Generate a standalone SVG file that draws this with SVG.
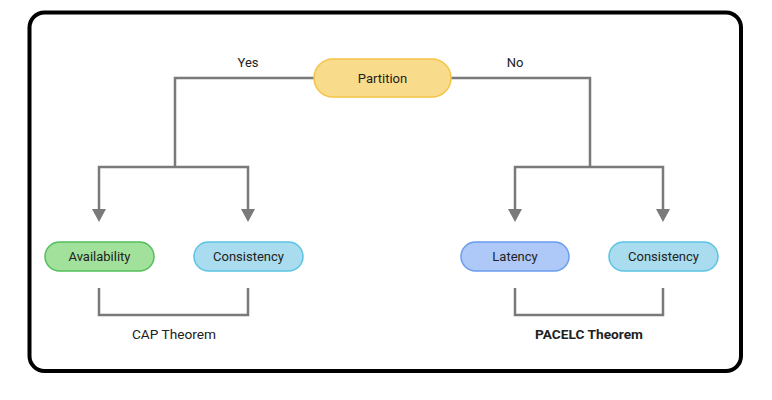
<svg xmlns="http://www.w3.org/2000/svg" width="772" height="400" viewBox="0 0 772 400">
<style>
.t{font-family:Roboto,"Liberation Sans",sans-serif;font-size:13px;fill:#222;text-anchor:middle}
.l{font-size:13.7px}
.b{font-weight:bold}
.ln{fill:none;stroke:#7a7a7a;stroke-width:2.5}
</style>
<rect x="29.5" y="12.5" width="711.5" height="358.5" rx="15" fill="#fff" stroke="#000" stroke-width="4"/>
<g id="connectors">
<path class="ln" d="M314,78 H175 V167"/>
<path class="ln" d="M451,78 H590 V167"/>
<path class="ln" d="M99,210 V167 H248 V210"/>
<path d="M92,209 L106,209 L99,222 Z" fill="#7a7a7a"/>
<path d="M241,209 L255,209 L248,222 Z" fill="#7a7a7a"/>
<path class="ln" d="M515,210 V167 H663 V210"/>
<path d="M508,209 L522,209 L515,222 Z" fill="#7a7a7a"/>
<path d="M656,209 L670,209 L663,222 Z" fill="#7a7a7a"/>
<path class="ln" d="M99,288 V315 H248 V288"/>
<path class="ln" d="M515,288 V315 H663 V288"/>
<text class="t" x="248" y="67">Yes</text>
<text class="t" x="515" y="67">No</text>
</g>
<g id="partition">
<rect x="314" y="59" width="137" height="38" rx="19" fill="#f9dc8b" stroke="#f5c446" stroke-width="1.5"/>
<text class="t" x="382.5" y="83">Partition</text>
</g>
<g id="availability">
<rect x="45" y="242" width="109" height="29" rx="14.5" fill="#a1e19b" stroke="#53bf5c" stroke-width="1.5"/>
<text class="t" x="99.5" y="261">Availability</text>
</g>
<g id="consistency-cap">
<rect x="194" y="242" width="109" height="29" rx="14.5" fill="#a9dcee" stroke="#5cc3e3" stroke-width="1.5"/>
<text class="t" x="248.5" y="261">Consistency</text>
</g>
<g id="latency">
<rect x="461" y="242" width="108" height="29" rx="14.5" fill="#aec8f7" stroke="#6a9cf0" stroke-width="1.5"/>
<text class="t" x="515" y="261">Latency</text>
</g>
<g id="consistency-pacelc">
<rect x="609" y="242" width="109" height="29" rx="14.5" fill="#a9dcee" stroke="#5cc3e3" stroke-width="1.5"/>
<text class="t" x="663.5" y="261">Consistency</text>
</g>
<g id="cap-label">
<text class="t l" x="174" y="339">CAP Theorem</text>
</g>
<g id="pacelc-label">
<text class="t l b" x="589" y="339">PACELC Theorem</text>
</g>
</svg>
